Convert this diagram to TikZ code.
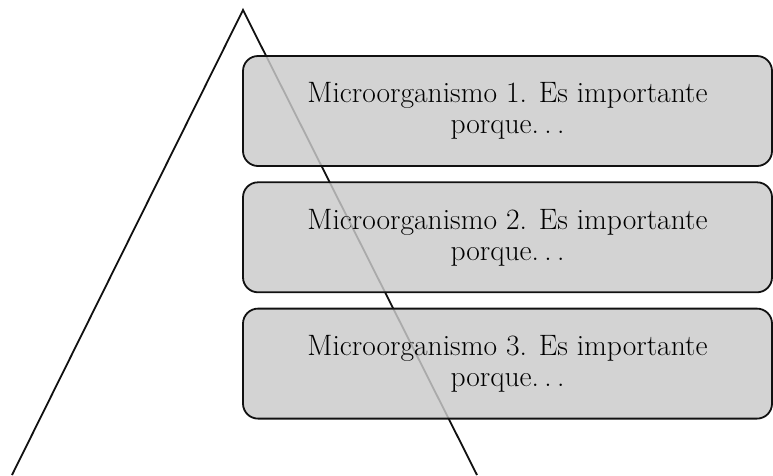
\documentclass[tikz,border=0pt]{standalone}
\usepackage{tikz}
\usetikzlibrary{positioning}
\definecolor{ink}{HTML}{111111}
\definecolor{cardfill}{HTML}{CACACA}
\newcommand{\spdots}{.\hspace{0.18em}.\hspace{0.18em}.}
\tikzset{
  card/.style = {rectangle, rounded corners=15pt, draw=ink, line width=1.8pt,
                 fill=cardfill, fill opacity=0.83, text opacity=1,
                 minimum width=529pt, minimum height=110pt, inner sep=0pt,
                 align=center, font=\fontsize{29.5}{31}\selectfont},
  side/.style = {draw=ink, line width=1.8pt, line join=miter},
}

\begin{document}
\begin{tikzpicture}[x=1pt, y=-1pt, node distance=14.5pt]
  \useasboundingbox (0,0) rectangle (773,475);

  % pyramid outline, open at the base
  \coordinate (apex)  at (243,10);
  \coordinate (baseL) at (12,475);
  \coordinate (baseR) at (477,475);
  \draw[side] (baseL) -- (apex) -- (baseR);

  % stacked cards
  \node[card] (m1) at (507.5,111) {Microorganismo 1. Es importante\\porque\spdots};
  \node[card, below=of m1] (m2) {Microorganismo 2. Es importante\\porque\spdots};
  \node[card, below=of m2] (m3) {Microorganismo 3. Es importante\\porque\spdots};
\end{tikzpicture}
\end{document}
